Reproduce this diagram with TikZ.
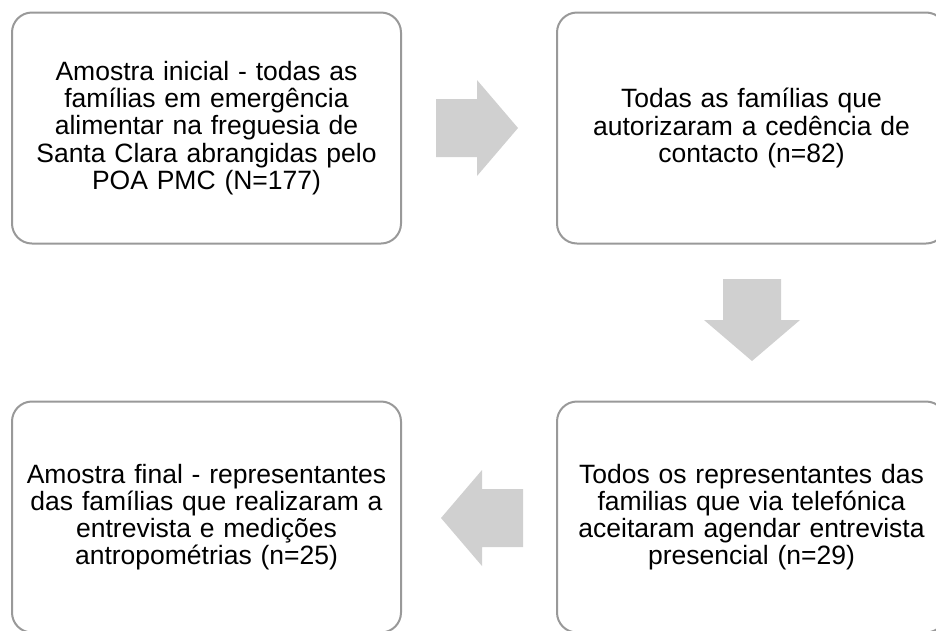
\documentclass[tikz,border=0pt]{standalone}
\usepackage{fontspec}
\setmainfont{Liberation Sans}
\usetikzlibrary{positioning}
\definecolor{boxline}{RGB}{153,153,153}
\definecolor{arrowfill}{RGB}{208,208,208}
\tikzset{stage/.style={draw=boxline, line width=2pt, rounded corners=20pt, fill=white,
    minimum width=389pt, minimum height=231pt, inner sep=0pt, text width=370pt, align=center,
    font=\fontsize{26.5}{27.2}\selectfont}}
\tikzset{blockarrow/.pic={
    \fill[arrowfill] (0,-29) -- (41,-29) -- (41,-48) -- (82,0) -- (41,48) -- (41,29) -- (0,29) -- cycle;}}

\begin{document}
\begin{tikzpicture}[x=1pt, y=-1pt]
\useasboundingbox (0,0) rectangle (936,630);

\node[stage] (ini) at (206.5, 128) {Amostra inicial - todas as\\famílias em emergência\\alimentar na freguesia de\\Santa Clara abrangidas pelo\\POA PMC (N=177)};
\node[stage] (aut) at (751.5, 128) {Todas as famílias que\\autorizaram a cedência de\\contacto (n=82)};
\node[stage] (tel) at (751.5, 517) {Todos os representantes das\\familias que via telefónica\\aceitaram agendar entrevista\\presencial (n=29)};
\node[stage] (fin) at (206.5, 517) {Amostra final - representantes\\das famílias que realizaram a\\entrevista e medições\\antropométrias (n=25)};

% block arrows between the stages
\pic at (436, 128) {blockarrow};
\pic[rotate=-90] at (752, 279) {blockarrow};
\pic[rotate=180] at (523, 518) {blockarrow};
\end{tikzpicture}
\end{document}
